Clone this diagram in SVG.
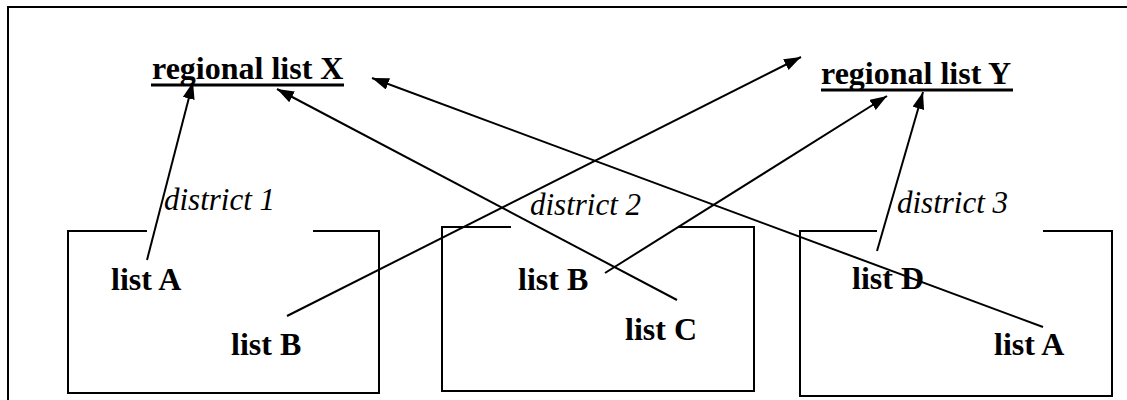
<svg xmlns="http://www.w3.org/2000/svg" width="1127" height="400" viewBox="0 0 1127 400">
<style>
.frame{fill:none;stroke:#000;stroke-width:2}
.box{fill:none;stroke:#000;stroke-width:2}
.conn{fill:none;stroke:#000;stroke-width:2}
.title{font-family:"Liberation Serif","Times New Roman",serif;font-weight:bold;font-size:32px;fill:#000}
.list{font-family:"Liberation Serif","Times New Roman",serif;font-weight:bold;font-size:32px;fill:#000}
.dist{font-family:"Liberation Serif","Times New Roman",serif;font-style:italic;font-size:31px;fill:#000}
.ul{stroke:#000;stroke-width:3}
</style>
<defs>
<marker id="arr" markerUnits="userSpaceOnUse" markerWidth="19" markerHeight="13" refX="17" refY="6" orient="auto">
<path d="M0,0 L17,6 L0,12 z" fill="#000"/>
</marker>
</defs>
<rect width="1127" height="400" fill="#fff"/>
<path class="frame" d="M8,400 L8,7 L1127,7"/>
<g id="regionalX">
<text class="title" x="152" y="79">regional list X</text>
<line class="ul" x1="151" y1="85" x2="344" y2="85"/>
</g>
<g id="regionalY">
<text class="title" x="821" y="84">regional list Y</text>
<line class="ul" x1="821" y1="90" x2="1013" y2="90"/>
</g>
<g id="district1">
<path class="box" d="M147,231 L68,231 L68,393 L379,393 L379,231 L313,231"/>
<text class="dist" x="164" y="210">district 1</text>
<text class="list" x="111" y="290">list A</text>
<text class="list" x="231" y="355">list B</text>
</g>
<g id="district2">
<path class="box" d="M511,227 L442,227 L442,391 L754,391 L754,227 L678,227"/>
<text class="dist" x="530" y="215">district 2</text>
<text class="list" x="518" y="290">list B</text>
<text class="list" x="625" y="340">list C</text>
</g>
<g id="district3">
<path class="box" d="M877,231 L800,231 L800,396 L1112,396 L1112,231 L1043,231"/>
<text class="dist" x="897" y="213">district 3</text>
<text class="list" x="852" y="289">list D</text>
<text class="list" x="994" y="355">list A</text>
</g>
<g id="connectors">
<line class="conn" x1="147" y1="260" x2="193" y2="82" marker-end="url(#arr)"/>
<line class="conn" x1="677" y1="300" x2="277" y2="89" marker-end="url(#arr)"/>
<line class="conn" x1="1043" y1="327" x2="372" y2="78" marker-end="url(#arr)"/>
<line class="conn" x1="287" y1="316" x2="801" y2="57" marker-end="url(#arr)"/>
<line class="conn" x1="605" y1="273" x2="887" y2="96" marker-end="url(#arr)"/>
<line class="conn" x1="877" y1="251" x2="923" y2="92" marker-end="url(#arr)"/>
</g>
</svg>
